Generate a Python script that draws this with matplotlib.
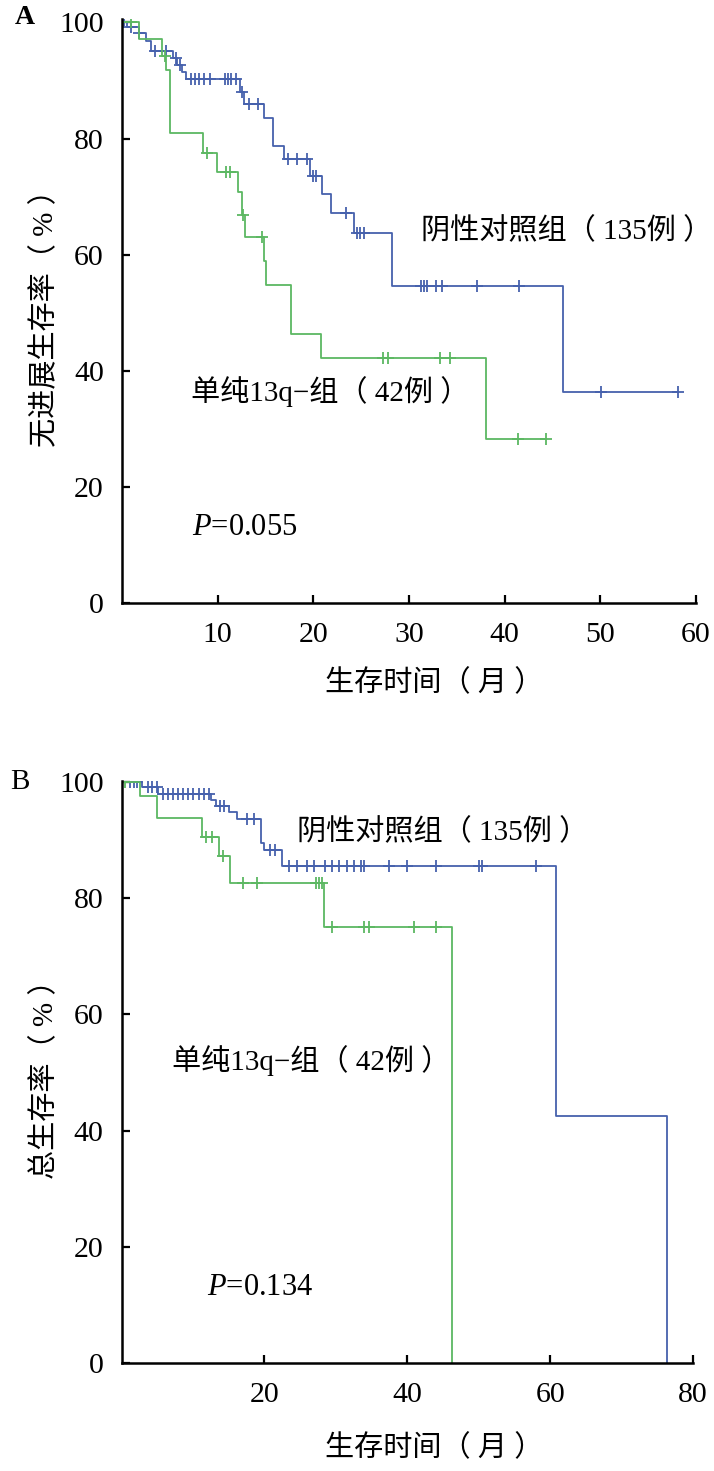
import numpy as np
import matplotlib
matplotlib.use('Agg')
import matplotlib.pyplot as plt

plt.rcParams['font.family'] = ['Liberation Serif', 'Noto Sans CJK SC']
plt.rcParams['mathtext.fontset'] = 'custom'
plt.rcParams['mathtext.rm'] = 'Liberation Serif'
plt.rcParams['mathtext.it'] = 'Liberation Serif:italic'

# panel A - progression free survival (months, %)
a_neg_t = [0, 0.5, 1.8, 2.5, 3.0, 5.3, 5.8, 6.3, 6.7, 12.3, 12.8, 14.8, 15.8, 16.9, 19.6, 20.9, 21.8, 24.3, 28.2, 46.1]
a_neg_s = [100, 99.2, 98.2, 96.8, 95.1, 93.9, 92.7, 91.5, 90.2, 88.0, 85.9, 83.5, 78.7, 76.4, 73.5, 70.4, 67.2, 63.8, 54.6, 36.4]
a_neg_end = 58.1
a_neg_cens = [0.2, 0.9, 1.8, 3.4, 4.6, 5.6, 6.1, 7.2, 7.6, 8.1, 8.6, 9.2, 10.8, 11.1, 11.4, 11.9,
              12.5, 13.3, 14.2, 17.3, 18.3, 19.3, 20.0, 20.3, 23.4, 24.6, 24.9, 25.3,
              31.3, 31.6, 31.9, 32.8, 33.5, 37.1, 41.5, 50.1, 58.1]

a_del_t = [0, 1.8, 4.2, 4.6, 5.0, 8.5, 9.9, 12.1, 12.5, 12.9, 14.8, 15.0, 17.7, 20.8, 38.1]
a_del_s = [100, 97.2, 94.3, 91.8, 80.9, 77.6, 74.2, 70.8, 66.9, 63.0, 58.9, 54.7, 46.3, 42.2, 28.2]
a_del_end = 44.3
a_del_cens = [0.9, 4.5, 8.9, 10.9, 11.3, 12.7, 14.6, 27.3, 27.8, 33.2, 34.3, 41.4, 44.3]

# panel B - overall survival
b_neg_t = [0, 2.8, 5.1, 12.5, 13.2, 15.0, 16.2, 19.5, 20.0, 22.5, 60.8, 76.3]
b_neg_s = [100, 99.2, 98.0, 96.9, 95.9, 94.8, 93.6, 89.5, 88.3, 85.5, 42.5, 0]
b_neg_end = 76.3
b_neg_cens = [1.2, 1.7, 2.1, 3.7, 4.3, 4.9, 5.8, 6.5, 7.2, 7.9, 8.6, 9.3, 10.0, 10.8, 11.5, 12.2,
              13.8, 14.4, 17.5, 18.5, 20.8, 21.5, 23.5, 24.5, 26.0, 27.0, 28.5, 29.5, 30.5,
              31.5, 32.5, 33.5, 34.0, 37.5, 40.0, 44.0, 50.0, 50.5, 58.0]

b_del_t = [0, 2.6, 5.0, 11.2, 13.6, 15.2, 28.3, 46.3]
b_del_s = [100, 97.6, 93.8, 90.6, 87.3, 82.6, 75.1, 0]
b_del_end = 46.3
b_del_cens = [0.5, 11.8, 12.6, 14.2, 17.0, 19.0, 27.2, 27.6, 28.0, 29.5, 34.0, 34.6, 41.0, 44.0]

blue = '#4661ad'
green = '#5cb862'


def level(times, surv, t):
    i = np.searchsorted(times, t, side='right') - 1
    return surv[i]


def km(ax, times, surv, end, cens, color):
    t = list(times) + [end]
    s = list(surv) + [surv[-1]]
    ax.step(t, s, where='post', color=color, lw=1.3)
    ys = [level(times, surv, c) for c in cens]
    ax.plot(cens, ys, ls='none', marker='+', ms=8, mew=1.3, color=color)


def style(ax, xmax, xticks):
    for s in ['top', 'right']:
        ax.spines[s].set_visible(False)
    for s in ['left', 'bottom']:
        ax.spines[s].set_linewidth(1.8)
    ax.set_xlim(0, xmax)
    ax.set_xticks(xticks)
    ax.set_yticks([0, 20, 40, 60, 80, 100])
    ax.tick_params(direction='in', length=6, width=1.6, labelsize=21.5)
    ax.tick_params(axis='x', pad=14)
    ax.tick_params(axis='y', pad=13)


fig = plt.figure(figsize=(7.14, 14.71), dpi=100)
W, H = 714, 1471
fs = 21

# panel A
axA = fig.add_axes([122 / W, 1 - 603 / H, 574 / W, 584 / H])
km(axA, a_neg_t, a_neg_s, a_neg_end, a_neg_cens, blue)
km(axA, a_del_t, a_del_s, a_del_end, a_del_cens, green)
style(axA, 60, [10, 20, 30, 40, 50, 60])
axA.set_ylim(0, 100.6)
axA.text(31.3, 64, '阴性对照组（ 135例 ）', fontsize=fs, va='center', clip_on=False)
axA.text(7.2, 36.5, '单纯13q−组（ 42例 ）', fontsize=fs, va='center')
axA.text(7.3, 13, '$P$=0.055', fontsize=22, va='center')
fig.text(15 / W, 1 - 18 / H, 'A', fontsize=20, fontweight='bold', va='center')
fig.text(45 / W, 1 - 311 / H, '无进展生存率（ % ）', fontsize=fs, rotation=90, va='center', ha='center')
fig.text(434 / W, 1 - 683 / H, '生存时间（ 月 ）', fontsize=fs, va='center', ha='center')

# panel B
axB = fig.add_axes([121.6 / W, 1 - 1363 / H, 571.4 / W, 582 / H])
km(axB, b_neg_t, b_neg_s, b_neg_end, b_neg_cens, blue)
km(axB, b_del_t, b_del_s, b_del_end, b_del_cens, green)
style(axB, 80, [20, 40, 60, 80])
axB.set_ylim(0, 100.2)
axB.text(24.6, 91.4, '阴性对照组（ 135例 ）', fontsize=fs, va='center')
axB.text(7.0, 52, '单纯13q−组（ 42例 ）', fontsize=fs, va='center')
axB.text(11.9, 13, '$P$=0.134', fontsize=22, va='center')
fig.text(10 / W, 1 - 782 / H, 'B', fontsize=21, va='center')
fig.text(45 / W, 1 - 1072 / H, '总生存率（ % ）', fontsize=fs, rotation=90, va='center', ha='center')
fig.text(434 / W, 1 - 1448 / H, '生存时间（ 月 ）', fontsize=fs, va='center', ha='center')

fig.savefig('out.png', dpi=100)
